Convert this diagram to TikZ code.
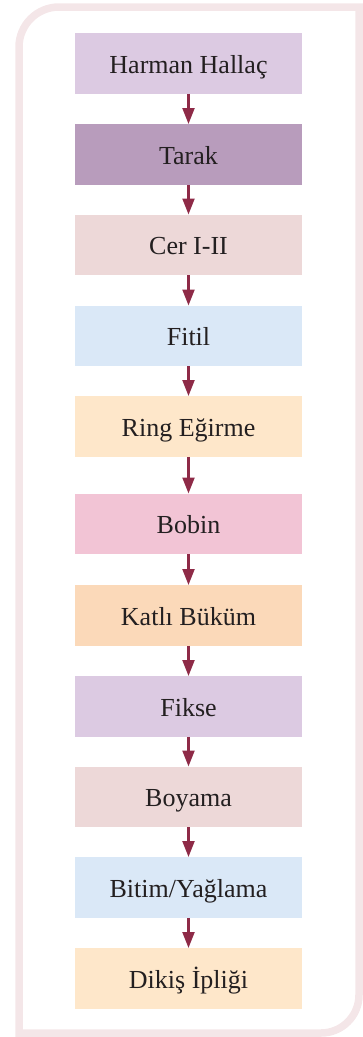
\documentclass[tikz,border=0pt]{standalone}
\usepackage{fontspec}
\setmainfont{Liberation Serif}
\usetikzlibrary{arrows.meta}
\definecolor{framec}{HTML}{F4E6E8}
\definecolor{arrowc}{HTML}{8E2A47}
\definecolor{textc}{HTML}{231F20}
\definecolor{cA}{HTML}{DCCAE2}
\definecolor{cB}{HTML}{B89CBC}
\definecolor{cC}{HTML}{EDD8D8}
\definecolor{cD}{HTML}{DAE8F7}
\definecolor{cE}{HTML}{FEE7CA}
\definecolor{cF}{HTML}{F2C4D5}
\definecolor{cG}{HTML}{FBD9B9}
\begin{document}
\begin{tikzpicture}[x=1pt,y=-1pt,
  stepbox/.style={rectangle, inner sep=0pt, minimum width=227pt, minimum height=60.5pt,
    text height=20pt, text depth=0pt, font=\fontsize{26}{30}\selectfont, text=textc, anchor=north},
  flow/.style={draw=arrowc, line width=2.3pt, -{Triangle[length=16pt,width=12pt]}}]
\useasboundingbox (0,0) rectangle (363,1037);
% frame
\draw[framec, line width=7.5pt, line join=miter]
  (359,7) -- (59,7) arc[start angle=270, end angle=180, radius=40] -- (19,1033) -- (321,1033)
  arc[start angle=90, end angle=0, radius=38] -- cycle;
% boxes
\node[stepbox, fill=cA] (n1) at (188.5,33) {Harman Hallaç};
\node[stepbox, fill=cB] (n2) at (188.5,124) {Tarak};
\node[stepbox, fill=cC] (n3) at (188.5,214.5) {Cer I-II};
\node[stepbox, fill=cD] (n4) at (188.5,305.5) {Fitil};
\node[stepbox, fill=cE] (n5) at (188.5,396) {Ring Eğirme};
\node[stepbox, fill=cF] (n6) at (188.5,493.5) {Bobin};
\node[stepbox, fill=cG] (n7) at (188.5,585) {Katlı Büküm};
\node[stepbox, fill=cA] (n8) at (188.5,676) {Fikse};
\node[stepbox, fill=cC] (n9) at (188.5,766.5) {Boyama};
\node[stepbox, fill=cD] (n10) at (188.5,857) {Bitim/Yağlama};
\node[stepbox, fill=cE] (n11) at (188.5,948) {Dikiş İpliği};
% arrows
\foreach \a/\b in {n1/n2,n2/n3,n3/n4,n4/n5,n5/n6,n6/n7,n7/n8,n8/n9,n9/n10,n10/n11}
  \draw[flow] (\a.south) -- (\b.north);
\end{tikzpicture}
\end{document}
